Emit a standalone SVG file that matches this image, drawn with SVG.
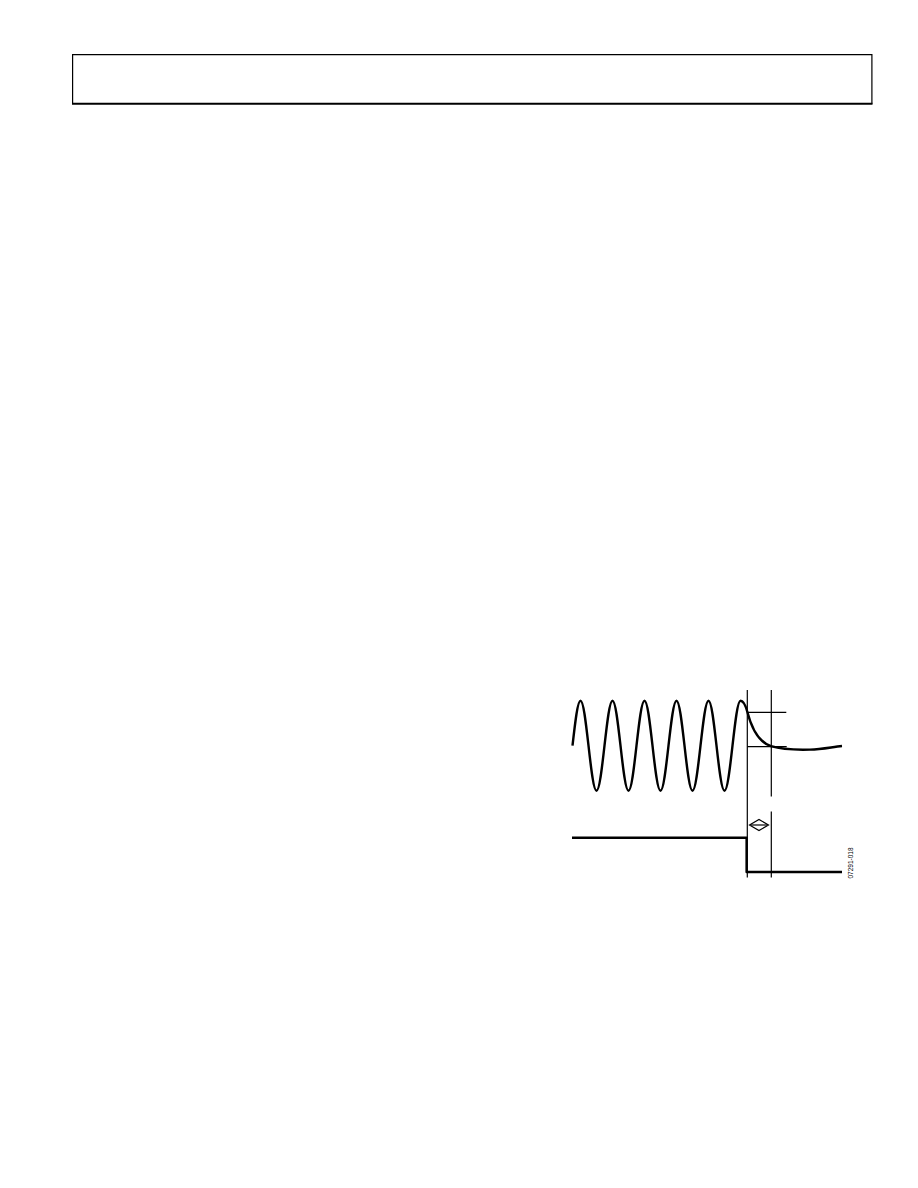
<svg xmlns="http://www.w3.org/2000/svg" width="918" height="1188" viewBox="0 0 918 1188">
<style>
.thin{fill:none;stroke:#000;stroke-width:1.2}
.thick{fill:none;stroke:#000;stroke-width:2.4;stroke-linejoin:round}
.lbl{font-family:"Liberation Sans",Arial,sans-serif;font-size:6.5px;fill:#000}
</style>
<rect width="918" height="1188" fill="#fff"/>
<g id="header">
<path class="thin" d="M72.6,103.7 V54.6 H871.9 V103.7"/>
<line x1="72" y1="103.7" x2="872.5" y2="103.7" stroke="#000" stroke-width="2"/>
</g>
<g id="connectors">
<line class="thin" x1="747.3" y1="690" x2="747.3" y2="877.5"/>
<line class="thin" x1="771.3" y1="690" x2="771.3" y2="796.5"/>
<line class="thin" x1="771.3" y1="811.5" x2="771.3" y2="877.5"/>
<line class="thin" x1="747.3" y1="712.3" x2="786.3" y2="712.3"/>
<line class="thin" x1="747.3" y1="746.7" x2="786.7" y2="746.7"/>
</g>
<g id="sine-wave">
<path class="thick" d="M572.5,745.7
c2.609,-23.05 5.105,-45 8,-45 c2.895,0 5.391,21.95 8,45 c2.609,23.05 5.105,45 8,45 c2.895,0 5.391,-21.95 8,-45
c2.609,-23.05 5.105,-45 8,-45 c2.895,0 5.391,21.95 8,45 c2.609,23.05 5.105,45 8,45 c2.895,0 5.391,-21.95 8,-45
c2.609,-23.05 5.105,-45 8,-45 c2.895,0 5.391,21.95 8,45 c2.609,23.05 5.105,45 8,45 c2.895,0 5.391,-21.95 8,-45
c2.609,-23.05 5.105,-45 8,-45 c2.895,0 5.391,21.95 8,45 c2.609,23.05 5.105,45 8,45 c2.895,0 5.391,-21.95 8,-45
c2.609,-23.05 5.105,-45 8,-45 c2.895,0 5.391,21.95 8,45 c2.609,23.05 5.105,45 8,45 c2.895,0 5.391,-21.95 8,-45
c2.609,-23.05 5.105,-45 8,-45
C743.2,700.7 745.5,705 747.3,711.7
C752.3,731 761,742.9 771,746.2
C781,749.2 795,750 810,749.6
C822,749.3 832,747 842,746"/>
</g>
<g id="step-signal">
<path class="thick" d="M572,837.8 H746.6 V872 H842"/>
</g>
<g id="interval-arrow">
<polygon class="thin" points="749.5,825 759,819.5 768.5,825 759,830.5" stroke-width="1.8"/>
<line class="thin" x1="751" y1="825" x2="767" y2="825"/>
</g>
<g id="figure-id">
<text class="lbl" text-anchor="middle" transform="translate(853.3,863) rotate(-90)">07291-018</text>
</g>
</svg>
